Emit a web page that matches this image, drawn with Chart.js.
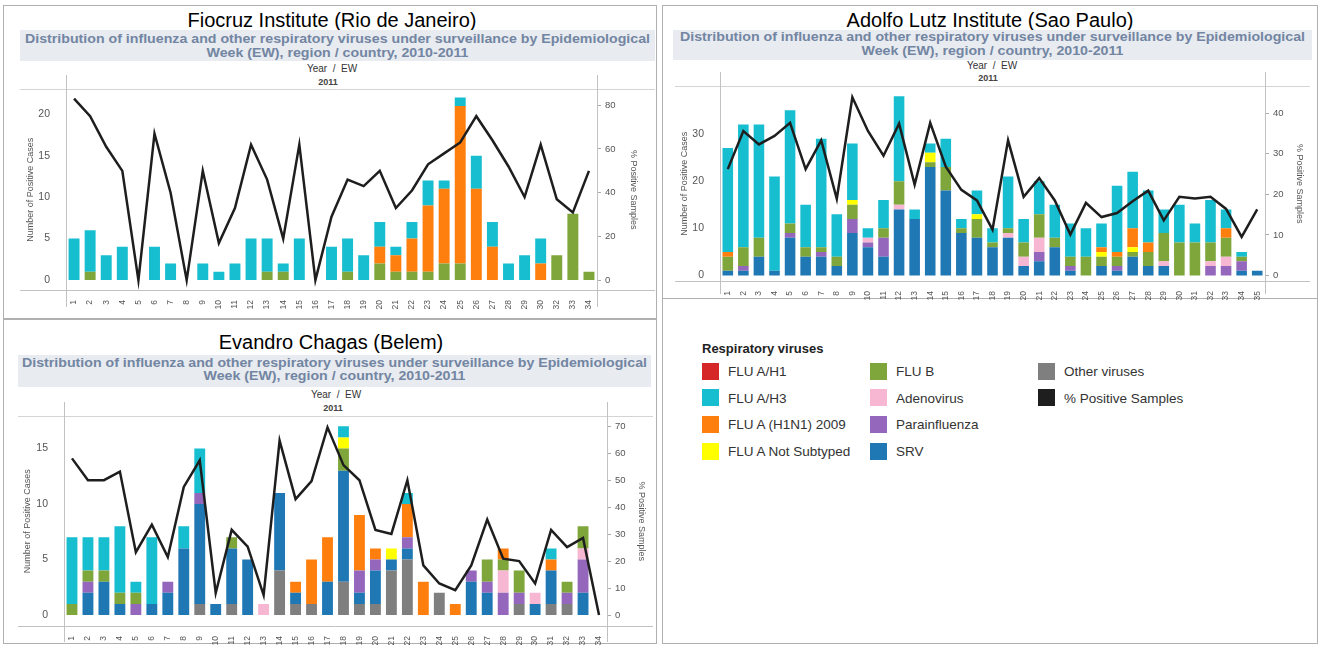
<!DOCTYPE html>
<html>
<head>
<meta charset="utf-8">
<title>Respiratory viruses by epidemiological week, 2011</title>
<script src="https://cdn.jsdelivr.net/npm/chart.js@4.4.1/dist/chart.umd.min.js"></script>
<style>
  body { margin: 0; background: #fff; font-family: "Liberation Sans", Arial, sans-serif; }
  #page { position: relative; width: 1320px; height: 646px; overflow: hidden; }
  .box { position: absolute; border: 1px solid #b0b0b0; box-sizing: border-box; }
  .title { position: absolute; font-size: 20px; line-height: 24px; color: #000; white-space: nowrap; transform: translateX(-50%); }
  .band { position: absolute; background: #e8ebf0; overflow: hidden; }
  .band .inner { position: absolute; left: 0; right: 0; text-align: center; color: #7285a2; font-weight: bold; font-size: 12px; line-height: 13.5px; transform-origin: 50% 0; }
  .band .inner span { white-space: nowrap; display: inline-block; }
  .hdr { position: absolute; transform: translateX(-50%); white-space: nowrap; color: #333; font-size: 10px; line-height: 12px; }
  .hdr.b { font-weight: bold; font-size: 9px; color: #444; }
  canvas { position: absolute; }
  .lgTitle { position: absolute; font-weight: bold; font-size: 13px; color: #222; line-height: 14px; }
  .sw { position: absolute; width: 17px; height: 17px; }
  .lgText { position: absolute; font-size: 13.5px; color: #333; line-height: 16px; white-space: nowrap; }
</style>
</head>
<body>
<div id="page">
  <div class="box" style="left:3px;top:5px;width:654px;height:314px"></div>
  <div class="box" style="left:662px;top:5px;width:656px;height:294px"></div>
  <div class="box" style="left:3px;top:319px;width:654px;height:325px"></div>
  <div class="box" style="left:662px;top:298px;width:656px;height:346px"></div>

  <div class="title" style="left:332px;top:8px">Fiocruz Institute (Rio de Janeiro)</div>
  <div class="band" style="left:20px;top:30px;width:635px;height:31px">
    <div class="inner" style="top:3px"><div><span>Distribution of influenza and other respiratory viruses under surveillance by Epidemiological</span></div><div><span>Week (EW), region / country, 2010-2011</span></div></div>
  </div>
  <div class="hdr" style="left:332px;top:63px">Year &nbsp;/ &nbsp;EW</div>
  <div class="hdr b" style="left:328px;top:76px">2011</div>
  <canvas id="fiocruz" width="635" height="235" style="left:20px;top:75px"></canvas>

  <div class="title" style="left:990px;top:8px">Adolfo Lutz Institute (Sao Paulo)</div>
  <div class="band" style="left:673px;top:30px;width:639px;height:30px">
    <div class="inner" style="top:1px"><div><span>Distribution of influenza and other respiratory viruses under surveillance by Epidemiological</span></div><div><span>Week (EW), region / country, 2010-2011</span></div></div>
  </div>
  <div class="hdr" style="left:992px;top:60px">Year &nbsp;/ &nbsp;EW</div>
  <div class="hdr b" style="left:988px;top:72px">2011</div>
  <canvas id="lutz" width="635" height="240" style="left:675px;top:72px"></canvas>

  <div class="title" style="left:331px;top:330px">Evandro Chagas (Belem)</div>
  <div class="band" style="left:18px;top:355px;width:633px;height:32px">
    <div class="inner" style="top:1.5px"><div><span>Distribution of influenza and other respiratory viruses under surveillance by Epidemiological</span></div><div><span>Week (EW), region / country, 2010-2011</span></div></div>
  </div>
  <div class="hdr" style="left:336px;top:389px">Year &nbsp;/ &nbsp;EW</div>
  <div class="hdr b" style="left:333px;top:402px">2011</div>
  <canvas id="chagas" width="635" height="250" style="left:18px;top:402px"></canvas>

  <div id="legend"></div>
</div>

<script>
// ---------- Fiocruz Institute (Rio de Janeiro) ----------
const fiocruzWeeks = ['1','2','3','4','5','6','7','8','9','10','11','12','13','14','15','16','17',
  '18','19','20','21','22','23','24','25','26','27','28','29','30','32','33','34'];
const fiocruzFluB = [0,1,0,0,0,0,0,0,0,0, 0,0,1,1,0,0,0,1,0,2, 1,1,1,2,2,0,0,0,0,0, 3,8,1];
const fiocruzH1N1 = [0,0,0,0,0,0,0,0,0,0, 0,0,0,0,0,0,0,0,0,2, 2,4,8,9,19,11,4,0,0,2, 0,0,0];
const fiocruzH3 = [5,5,3,4,0,4,2,0,2,1, 2,5,4,1,5,0,4,4,3,3, 1,2,3,1,1,4,3,2,3,3, 0,0,0];
const fiocruzPct = [83,75,61,50,0,67,40,0,50,17, 33,62,46,19,62,0,29,46,43,50,
  33,41,53,58,63,75,64,52,38,62, 37,31,50];
const fiocruzCaseTicks = [0, 5, 10, 15, 20];
const fiocruzPctTicks = [0, 20, 40, 60, 80];

// ---------- Adolfo Lutz Institute (Sao Paulo) ----------
const lutzWeeks = ['1','2','3','4','5','6','7','8','9','10','11','12','13','14','15','16','17','18',
  '19','20','21','22','23','24','25','26','27','28','29','30','31','32','33','34','35'];
const lutzSRV = [1,1,4,1,8,4,4,2,9,6, 4,14,12,23,18,9,8,6,8,2, 3,6,1,0,2,1,4,2,2,0, 0,0,0,1,1];
const lutzPara = [0,1,0,0,1,0,1,0,3,1, 4,0,0,0,0,0,0,0,0,0, 2,0,1,0,0,1,0,0,0,0, 0,2,2,2,0];
const lutzAdeno = [0,0,0,0,0,0,0,0,0,1, 0,1,0,0,0,0,0,0,1,2, 3,0,0,0,0,0,0,0,1,0, 0,1,2,0,0];
const lutzFluB = [3,4,4,0,2,2,1,2,3,0, 2,5,0,1,5,1,4,1,1,3, 5,2,2,4,2,2,1,3,6,7, 7,4,4,1,0];
const lutzNotSub = [0,0,0,0,0,0,0,0,1,0, 0,0,0,2,0,0,1,0,0,0, 0,0,0,0,1,0,1,0,0,0, 0,0,0,0,0];
const lutzH1N1 = [1,0,0,0,0,0,0,0,0,0, 0,0,0,0,0,0,0,0,0,0, 0,0,0,0,1,1,4,2,0,0, 0,0,2,0,0];
const lutzH3 = [22,26,24,20,24,9,23,9,12,2, 6,18,2,2,6,2,5,3,11,5, 7,7,7,6,5,14,12,11,5,8, 4,9,4,1,0];
const lutzPct = [26.2,35.6,32.3,34.4,37.6,26.2,33.3,18.9,43.9,35.6, 29.5,37.4,22.4,37.6,26.8,21.1,18.5,11.3,33.3,19.4,
  24,18.5,10.1,17.9,14.4,15.4,18.3,20.9,13.6,19.4, 19.0,19.4,16.4,9.5,16.3];
const lutzCaseTicks = [0, 10, 20, 30];
const lutzPctTicks = [0, 10, 20, 30, 40];

// ---------- Evandro Chagas (Belem) ----------
const chagasWeeks = ['1','2','3','4','5','6','7','8','9','10','11','12','13','14','15','16','17',
  '18','19','20','21','22','23','24','25','26','27','28','29','30','31','32','33','34'];
const chagasOther = [0,0,0,0,0,0,0,0,1,0, 1,0,0,4,1,1,0,3,1,1, 4,5,0,2,0,0,0,0,1,0, 1,1,0,0];
const chagasSRV = [0,2,3,1,0,1,2,6,9,1, 5,5,0,7,1,0,3,10,1,3, 1,1,0,0,0,3,2,0,0,1, 3,0,2,0];
const chagasPara = [0,1,0,0,1,0,1,0,1,0, 0,0,0,0,0,0,0,0,2,1, 0,1,0,0,0,1,1,2,1,0, 0,1,3,0];
const chagasAdeno = [0,0,0,0,0,0,0,0,0,0, 0,0,1,0,0,0,0,0,0,0, 0,0,0,0,0,0,0,2,0,1, 0,0,1,0];
const chagasFluB = [1,1,1,1,1,0,0,0,0,0, 1,0,0,0,0,0,0,2,0,0, 0,0,0,0,0,0,2,1,2,0, 0,1,2,0];
const chagasNotSub = [0,0,0,0,0,0,0,0,0,0, 0,0,0,0,0,0,0,1,0,0, 1,0,0,0,0,0,0,0,0,0, 0,0,0,0];
const chagasH1N1 = [0,0,0,0,0,0,0,0,0,0, 0,0,0,0,1,4,4,0,5,1, 0,3,3,0,1,0,0,1,0,0, 1,0,0,0];
const chagasH3 = [6,3,3,6,1,6,0,2,4,0, 0,0,0,0,0,0,0,1,0,0, 0,1,0,0,0,0,0,0,0,0, 1,0,0,0];
const chagasPct = [58.1,50,50,53.2,23.3,33.5,21.5,47.5,57.4,8.2, 31.6,25.4,7.4,64.7,43,49.7,69.6,55.6,50,31.6,
  30.1,50,18.4,11.7,9.2,18.4,35.4,20.9,20,11.7, 31.6,25.2,28.6,0];
const chagasCaseTicks = [0, 5, 10, 15];
const chagasPctTicks = [0, 10, 20, 30, 40, 50, 60, 70];

// legend entries, in three columns
const legendNames = ['FLU A/H1', 'FLU A/H3', 'FLU A (H1N1) 2009', 'FLU A Not Subtyped',
  'FLU B', 'Adenovirus', 'Parainfluenza', 'SRV', 'Other viruses', '% Positive Samples'];
const legendKeys = ['h1', 'h3', 'h1n1', 'notSub', 'fluB', 'adeno', 'para', 'srv', 'other', 'pct'];

const colors = {
  h1: '#d62728', h3: '#17becf', h1n1: '#ff7f0e', notSub: '#ffff00', fluB: '#7ea63b',
  adeno: '#f7b6d2', para: '#9467bd', srv: '#1f77b4', other: '#7f7f7f', pct: '#1e1e1e'
};

Chart.defaults.font.family = '"Liberation Sans", Arial, sans-serif';
Chart.defaults.color = '#555';

// axis lines and header rules the way the original dashboard draws them
const axisFrame = {
  id: 'axisFrame',
  beforeDatasetsDraw(chart) {
    const { ctx, chartArea: a, width } = chart;
    const h = chart.options.frameBottom;
    const line = (x1, y1, x2, y2) => { ctx.beginPath(); ctx.moveTo(x1, y1); ctx.lineTo(x2, y2); ctx.stroke(); };
    ctx.save();
    ctx.lineWidth = 1;
    ctx.strokeStyle = '#d4d4d4';
    line(0, Math.round(a.top) + 0.5, width, Math.round(a.top) + 0.5);
    ctx.strokeStyle = '#c2c2c2';
    line(0, Math.round(a.bottom) + 0.5, width, Math.round(a.bottom) + 0.5);
    line(Math.round(a.left) + 0.5, 0, Math.round(a.left) + 0.5, h);
    line(Math.round(a.right) + 0.5, 0, Math.round(a.right) + 0.5, h);
    ctx.restore();
  }
};

function buildChart(id, o) {
  const datasets = o.series.map(s => ({
    type: 'bar', label: s[0], data: s[1], backgroundColor: colors[s[2]],
    yAxisID: 'y', order: 1, barPercentage: 0.68, categoryPercentage: 1, borderWidth: 0
  }));
  datasets.push({
    type: 'line', label: '% Positive Samples', data: o.pct, yAxisID: 'y1', order: 0,
    borderColor: colors.pct, borderWidth: 2.5, pointRadius: 0, tension: 0, fill: false
  });

  return new Chart(document.getElementById(id), {
    data: { labels: o.labels, datasets },
    options: {
      responsive: false,
      animation: false,
      frameBottom: o.frameBottom,
      layout: { padding: { top: 13, left: 0, right: 0, bottom: 0 } },
      plugins: { legend: { display: false }, tooltip: { enabled: false } },
      scales: {
        x: {
          stacked: true,
          grid: { display: false }, border: { display: false },
          ticks: { autoSkip: false, minRotation: 90, maxRotation: 90, padding: 2, font: { size: 8.5 }, color: '#555' },
          afterFit: s => { s.height = o.xh; }
        },
        y: {
          stacked: true, position: 'left', min: o.yMin, max: o.yMax,
          afterBuildTicks: a => { a.ticks = o.yTicks.map(v => ({ value: v })); },
          grid: { display: false }, border: { display: false },
          ticks: { padding: 8, font: { size: 10.5 }, color: '#555' },
          title: { display: true, text: 'Number of Positive Cases', font: { size: 9 }, color: '#555', padding: { top: o.ytp, bottom: 0 } },
          afterFit: s => { s.width = o.yw; }
        },
        y1: {
          position: 'right', min: o.y1Min, max: o.y1Max,
          afterBuildTicks: a => { a.ticks = o.y1Ticks.map(v => ({ value: v })); },
          grid: { display: true, drawOnChartArea: false, drawTicks: true, tickLength: 4, color: '#aaa' },
          border: { display: false },
          ticks: { padding: 4, font: { size: 9.5 }, color: '#555' },
          title: { display: true, text: '% Positive Samples', font: { size: 9 }, color: '#555', padding: { top: o.y1tp, bottom: 0 } },
          afterFit: s => { s.width = o.y1w; }
        }
      }
    },
    plugins: [axisFrame]
  });
}

buildChart('fiocruz', {
  labels: fiocruzWeeks,
  series: [['FLU B', fiocruzFluB, 'fluB'], ['FLU A (H1N1) 2009', fiocruzH1N1, 'h1n1'], ['FLU A/H3', fiocruzH3, 'h3']],
  pct: fiocruzPct,
  yMin: -1.2, yMax: 23, y1Min: -4.5, y1Max: 87.3,
  yTicks: fiocruzCaseTicks, y1Ticks: fiocruzPctTicks,
  yw: 46, y1w: 58, xh: 20, ytp: 5, y1tp: 16, frameBottom: 232
});

buildChart('lutz', {
  labels: lutzWeeks,
  series: [['SRV', lutzSRV, 'srv'], ['Parainfluenza', lutzPara, 'para'], ['Adenovirus', lutzAdeno, 'adeno'],
    ['FLU B', lutzFluB, 'fluB'], ['FLU A Not Subtyped', lutzNotSub, 'notSub'],
    ['FLU A (H1N1) 2009', lutzH1N1, 'h1n1'], ['FLU A/H3', lutzH3, 'h3']],
  pct: lutzPct,
  yMin: -1.16, yMax: 40.1, y1Min: -1.34, y1Max: 46.6,
  yTicks: lutzCaseTicks, y1Ticks: lutzPctTicks,
  yw: 45, y1w: 45, xh: 31, ytp: 4, y1tp: 5, frameBottom: 222
});

buildChart('chagas', {
  labels: chagasWeeks,
  series: [['Other viruses', chagasOther, 'other'], ['SRV', chagasSRV, 'srv'], ['Parainfluenza', chagasPara, 'para'],
    ['Adenovirus', chagasAdeno, 'adeno'], ['FLU B', chagasFluB, 'fluB'], ['FLU A Not Subtyped', chagasNotSub, 'notSub'],
    ['FLU A (H1N1) 2009', chagasH1N1, 'h1n1'], ['FLU A/H3', chagasH3, 'h3']],
  pct: chagasPct,
  yMin: -0.99, yMax: 17.9, y1Min: -4.05, y1Max: 73.7,
  yTicks: chagasCaseTicks, y1Ticks: chagasPctTicks,
  yw: 46, y1w: 46, xh: 26, ytp: 4, y1tp: 6, frameBottom: 240
});

// squeeze the header band text to the width it has in the original
document.querySelectorAll('.band .inner').forEach(el => {
  const w = el.querySelector('span').getBoundingClientRect().width;
  el.style.transform = 'scaleX(' + (625 / w).toFixed(3) + ')';
});

// legend
const legend = document.getElementById('legend');
legend.innerHTML = '<div class="lgTitle" style="left:702px;top:342px">Respiratory viruses</div>';
const colX = [702, 870, 1038];
const rowsPerCol = [4, 4, 2];
let k = 0;
colX.forEach((x, c) => {
  for (let r = 0; r < rowsPerCol[c]; r++, k++) {
    const y = 371 + r * 26.7;
    legend.innerHTML += '<div class="sw" style="left:' + x + 'px;top:' + (y - 8.5) + 'px;background:' + colors[legendKeys[k]] + '"></div>' +
      '<div class="lgText" style="left:' + (x + 26) + 'px;top:' + (y - 7) + 'px">' + legendNames[k] + '</div>';
  }
});
</script>
</body>
</html>
